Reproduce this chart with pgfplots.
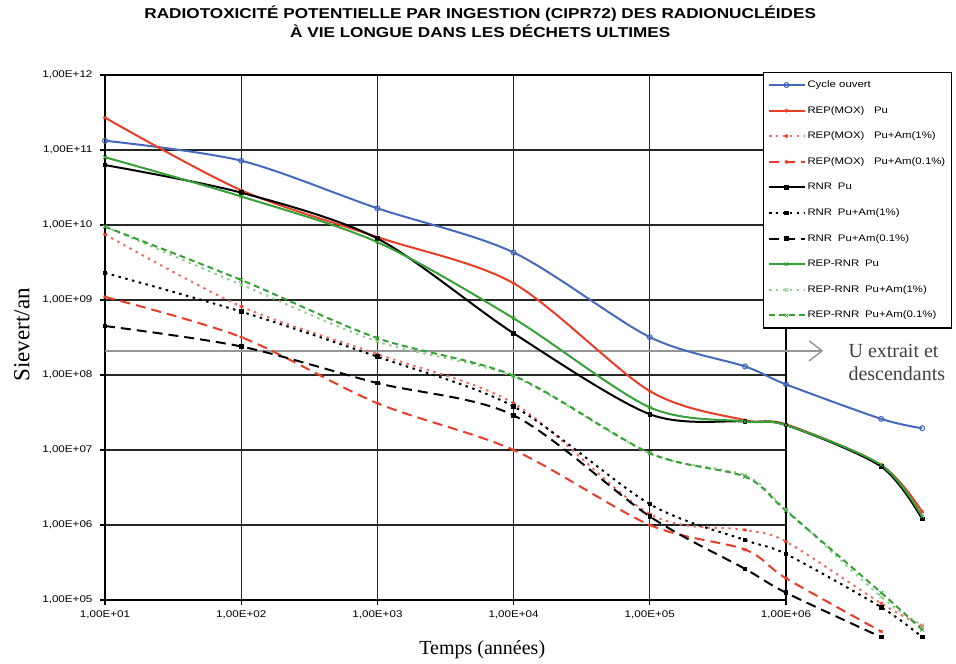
\documentclass[border=0pt]{standalone}
\usepackage{fontspec}
\setmainfont{Liberation Serif}
\newfontfamily\sffont[FakeStretch=1.2]{Liberation Sans}
\usepackage{pgfplots}
\pgfplotsset{compat=1.18}
\usetikzlibrary{arrows.meta}
\definecolor{cblue}{RGB}{70,105,190}
\definecolor{cred}{RGB}{232,62,40}
\definecolor{cpink}{RGB}{236,110,100}
\definecolor{cgreen}{RGB}{55,160,55}
\definecolor{clgreen}{RGB}{150,205,145}
\definecolor{cgray}{RGB}{150,150,150}
\newcommand{\ticks}{\sffont\fontsize{9.7}{11}\selectfont}
\newcommand{\legfont}{\sffont\fontsize{9.5}{11}\selectfont}
\newcommand{\titlefont}{\sffont\bfseries\fontsize{14.3}{19}\selectfont}
\newcommand{\serifbig}{\rmfamily\fontsize{20}{23}\selectfont}

\begin{document}
\begin{tikzpicture}
\useasboundingbox (-105pt,-64pt) rectangle (851pt,600pt);
\begin{axis}[
  scale only axis, width=681pt, height=525pt,
  xmode=log, ymode=log,
  xmin=10, xmax=1e6, ymin=1e5, ymax=1e12,
  clip=false,
  xtick={1e1,1e2,1e3,1e4,1e5,1e6},
  xticklabels={{1,00E+01},{1,00E+02},{1,00E+03},{1,00E+04},{1,00E+05},{1,00E+06}},
  ytick={1e5,1e6,1e7,1e8,1e9,1e10,1e11,1e12},
  yticklabels={{1,00E+05},{1,00E+06},{1,00E+07},{1,00E+08},{1,00E+09},{1,00E+10},{1,00E+11},{1,00E+12}},
  xminorticks=false, yminorticks=false,
  xtick pos=bottom, ytick pos=left,
  tick align=outside, major tick length=5pt,
  every tick/.style={black, line width=1.2pt},
  grid=major, major grid style={black!85, line width=1.3pt},
  axis line style={black, line width=1.5pt},
  tick label style={font=\ticks},
  yticklabel style={xshift=-4pt},
  xticklabel style={yshift=-2pt},
  xlabel={Temps (années)}, ylabel={Sievert/an},
  label style={font=\serifbig},
  xlabel style={at={(axis description cs:0.554,-0.095)}, anchor=center},
  ylabel style={at={(axis description cs:-0.122,0.505)}, anchor=center, font=\rmfamily\fontsize{23}{26}\selectfont},
  title={RADIOTOXICITÉ POTENTIELLE PAR INGESTION (CIPR72) DES RADIONUCLÉIDES\\À VIE LONGUE DANS LES DÉCHETS ULTIMES},
  title style={at={(axis description cs:0.551,1.0905)}, anchor=center, align=center, font=\titlefont},
  legend style={at={(rel axis cs:0.966,1.006)}, anchor=north west, draw=black, line width=1.3pt,
    fill=white, font=\legfont, row sep=12.6pt, inner xsep=4pt, inner ysep=6pt,
    nodes={inner sep=2pt, text height=7pt, text depth=2pt}},
  legend cell align=left,
  legend image code/.code={\draw[mark repeat=2,mark phase=2] plot coordinates {(0pt,0pt) (18pt,0pt) (36pt,0pt)};},
]
% U extrait et descendants
\addplot[cgray, line width=1.5pt, forget plot,
  -{Straight Barb[length=13pt,width=20pt,line width=1.5pt]}]
  coordinates {(10,2.1e8) (1.88e6,2.1e8)};
\node[anchor=west, align=left, inner sep=0pt, font=\serifbig, text=black!75]
  at (axis cs:2.87e6,1.49e8) {U extrait et\\descendants};

% Cycle ouvert
\addplot[cblue, line width=2pt, smooth, mark=o, mark size=2.5pt, mark options={fill=white, line width=1pt}]
  coordinates {(10,1.33e11) (100,7.2e10) (1e3,1.67e10) (1e4,4.3e9) (1e5,3.2e8) (5e5,1.3e8) (1e6,7.5e7) (5e6,2.6e7) (1e7,1.95e7)};
\addlegendentry{Cycle ouvert}
% REP(MOX) Pu
\addplot[cred, line width=2pt, smooth, mark=asterisk, mark size=2pt, mark options={line width=0.8pt}]
  coordinates {(10,2.7e11) (100,2.9e10) (1e3,6.9e9) (1e4,1.67e9) (1e5,6.1e7) (5e5,2.5e7) (1e6,2.2e7) (5e6,6.3e6) (1e7,1.5e6)};
\addlegendentry{REP(MOX)\hspace{1em}Pu}
% REP(MOX) Pu+Am(1%)
\addplot[cpink, line width=2pt, smooth, dash pattern=on 2.5pt off 4.5pt, mark=asterisk, mark size=2pt, mark options={solid, cred, line width=0.8pt}]
  coordinates {(10,7.5e9) (100,8.2e8) (1e3,1.9e8) (1e4,4.2e7) (1e5,1.4e6) (5e5,8.6e5) (1e6,6e5) (5e6,9e4) (1e7,4.5e4)};
\addlegendentry{REP(MOX)\hspace{1em}Pu+Am(1\%)}
% REP(MOX) Pu+Am(0.1%)
\addplot[cred, line width=2pt, smooth, dash pattern=on 10pt off 6pt, mark=asterisk, mark size=2pt, mark options={solid, line width=0.8pt}]
  coordinates {(10,1.1e9) (100,3.2e8) (1e3,4.2e7) (1e4,1.0e7) (1e5,1.0e6) (5e5,4.7e5) (1e6,1.95e5) (5e6,3.8e4)};
\addlegendentry{REP(MOX)\hspace{1em}Pu+Am(0.1\%)}
% RNR Pu
\addplot[black, line width=2pt, smooth, mark=square*, mark size=1.3pt, mark options={solid}]
  coordinates {(10,6.3e10) (100,2.7e10) (1e3,6.6e9) (1e4,3.6e8) (1e5,3.0e7) (5e5,2.4e7) (1e6,2.15e7) (5e6,6e6) (1e7,1.2e6)};
\addlegendentry{RNR\hspace{0.6em}Pu}
% RNR Pu+Am(1%)
\addplot[black, line width=2pt, smooth, dash pattern=on 2.5pt off 4.5pt, mark=square*, mark size=1.3pt, mark options={solid}]
  coordinates {(10,2.3e9) (100,7e8) (1e3,1.75e8) (1e4,3.8e7) (1e5,1.9e6) (5e5,6.3e5) (1e6,4.1e5) (5e6,8e4) (1e7,3.2e4)};
\addlegendentry{RNR\hspace{0.6em}Pu+Am(1\%)}
% RNR Pu+Am(0.1%)
\addplot[black, line width=2pt, smooth, dash pattern=on 10pt off 6pt, mark=square*, mark size=1.3pt, mark options={solid}]
  coordinates {(10,4.5e8) (100,2.4e8) (1e3,7.8e7) (1e4,2.9e7) (1e5,1.3e6) (5e5,2.6e5) (1e6,1.25e5) (5e6,3.2e4)};
\addlegendentry{RNR\hspace{0.6em}Pu+Am(0.1\%)}
% REP-RNR Pu
\addplot[cgreen, line width=2pt, smooth, mark=x, mark size=2.5pt, mark options={solid, line width=0.8pt}]
  coordinates {(10,8e10) (100,2.4e10) (1e3,5.9e9) (1e4,5.7e8) (1e5,3.7e7) (5e5,2.4e7) (1e6,2.15e7) (5e6,6.3e6) (1e7,1.3e6)};
\addlegendentry{REP-RNR\hspace{0.6em}Pu}
% REP-RNR Pu+Am(1%)
\addplot[clgreen, line width=2pt, smooth, dash pattern=on 2.5pt off 4.5pt, mark=x, mark size=2.5pt, mark options={solid, line width=0.8pt}]
  coordinates {(10,9.5e9) (100,1.6e9) (1e3,2.8e8) (1e4,9.5e7) (1e5,9e6) (5e5,4.6e6) (1e6,1.6e6) (5e6,1.1e5) (1e7,4.6e4)};
\addlegendentry{REP-RNR\hspace{0.6em}Pu+Am(1\%)}
% REP-RNR Pu+Am(0.1%)
\addplot[cgreen, line width=2pt, smooth, dash pattern=on 6pt off 4pt, mark=x, mark size=2.5pt, mark options={solid, line width=0.8pt}]
  coordinates {(10,9.5e9) (100,1.85e9) (1e3,3.1e8) (1e4,9.8e7) (1e5,9.1e6) (5e5,4.4e6) (1e6,1.55e6) (5e6,1.25e5) (1e7,4e4)};
\addlegendentry{REP-RNR\hspace{0.6em}Pu+Am(0.1\%)}
\end{axis}
\end{tikzpicture}
\end{document}
